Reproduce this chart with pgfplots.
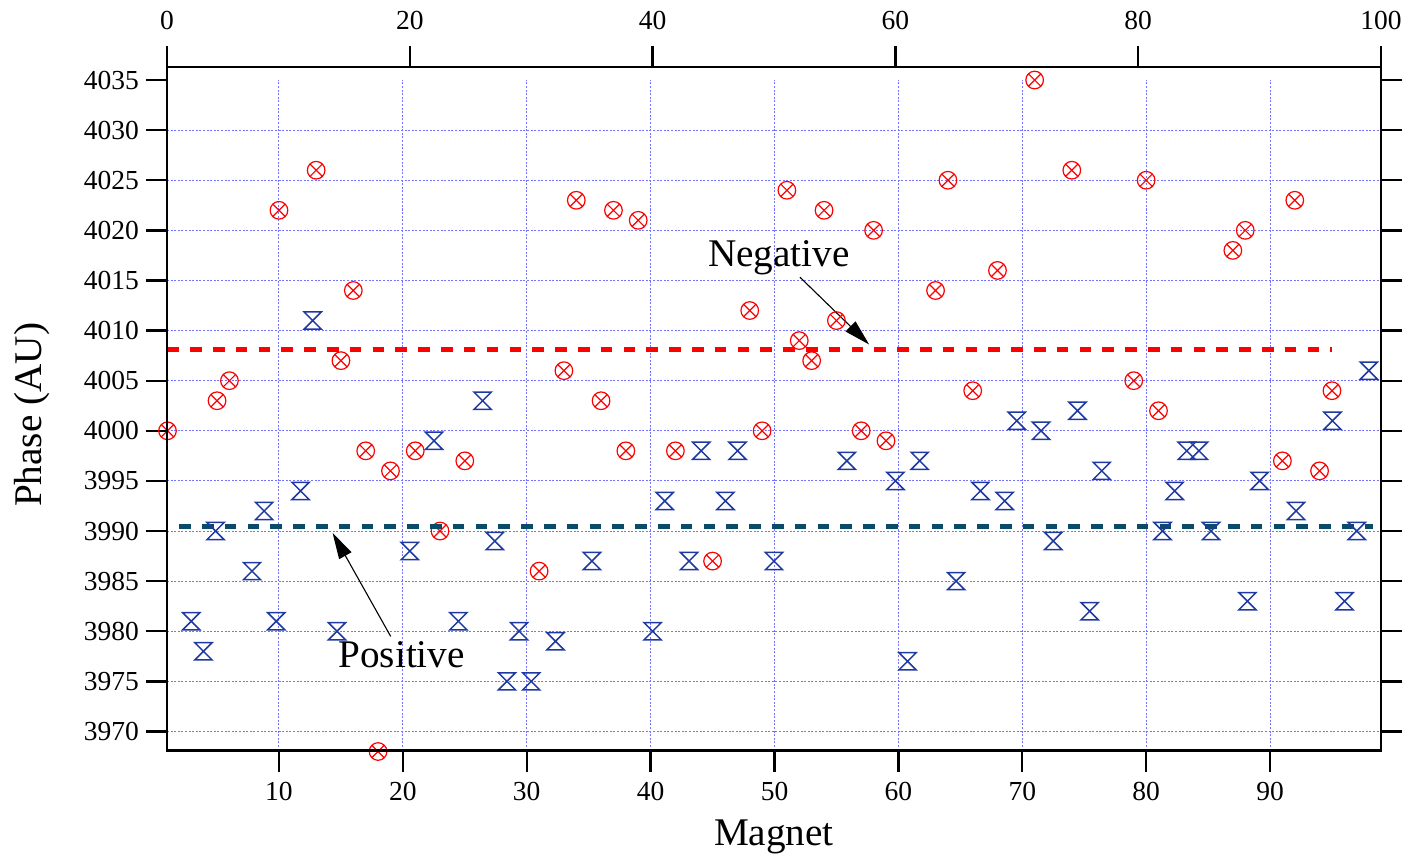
\documentclass[border=0pt]{standalone}
\usepackage{fontspec}
\setmainfont{Liberation Serif}
\usepackage{pgfplots}
\pgfplotsset{compat=1.18}
\usetikzlibrary{plotmarks,arrows.meta}

\definecolor{negred}{RGB}{255,0,0}
\definecolor{posblue}{RGB}{30,58,160}
\definecolor{posline}{RGB}{10,75,105}
\definecolor{gridblue}{RGB}{115,115,255}

\pgfdeclareplotmark{hourglass}{%
  \pgfpathmoveto{\pgfqpoint{-\pgfplotmarksize}{\pgfplotmarksize}}%
  \pgfpathlineto{\pgfqpoint{\pgfplotmarksize}{\pgfplotmarksize}}%
  \pgfpathlineto{\pgfqpoint{-\pgfplotmarksize}{-\pgfplotmarksize}}%
  \pgfpathlineto{\pgfqpoint{\pgfplotmarksize}{-\pgfplotmarksize}}%
  \pgfpathclose
  \pgfusepathqstroke}

\pgfplotstableread{
x y
1 4000
5 4003
6 4005
10 4022
13 4026
15 4007
16 4014
17 3998
18 3968
19 3996
21 3998
23 3990
25 3997
31 3986
33 4006
34 4023
36 4003
37 4022
38 3998
39 4021
42 3998
45 3987
48 4012
49 4000
51 4024
52 4009
53 4007
54 4022
55 4011
57 4000
58 4020
59 3999
63 4014
64 4025
66 4004
68 4016
71 4035
74 4026
79 4005
80 4025
81 4002
87 4018
88 4020
91 3997
92 4023
94 3996
95 4004
}\negdata

\pgfplotstableread{
x y
2 3981
3 3978
4 3990
7 3986
8 3992
9 3981
11 3994
12 4011
14 3980
20 3988
22 3999
24 3981
26 4003
27 3989
28 3975
29 3980
30 3975
32 3979
35 3987
40 3980
41 3993
43 3987
44 3998
46 3993
47 3998
50 3987
56 3997
60 3995
61 3977
62 3997
65 3985
67 3994
69 3993
70 4001
72 4000
73 3989
75 4002
76 3982
77 3996
82 3990
83 3994
84 3998
85 3998
86 3990
89 3983
90 3995
93 3992
96 4001
97 3983
98 3990
99 4006
}\posdata

\tikzset{gridln/.style={gridblue, line width=0.5pt, dash pattern=on 1pt off 0.8pt}}

\pgfplotsset{
  commonax/.style={
    width=607pt, height=341.75pt, scale only axis,
    ymin=3968.1, ymax=4036.3,
    clip=false,
    tick align=outside,
    major tick length=10.5pt,
    axis line style={line width=1.15pt, black},
    tick style={line width=1.15pt, black},
    tick label style={font=\rmfamily\fontsize{13.75}{16}\selectfont},
    /pgf/number format/assume math mode=true,
    /pgf/number format/1000 sep={},
    scaled ticks=false,
  },
}

\begin{document}
\begin{tikzpicture}
\begin{axis}[commonax,
  xmin=0.96, xmax=98.96,
  xtick={10,20,...,90},
  xtick pos=left,
  ytick={3970,3975,...,4035},
  ytick pos=both, yticklabel pos=left,
  xticklabel style={yshift=-2pt},
]
\coordinate (BL) at (rel axis cs:0,0);
\coordinate (TR) at (rel axis cs:1,1);
\pgfplotsinvokeforeach{3970,3975,3980,3985,3990,3995,4000,4005,4010,4015,4020,4025,4030}{
  \draw[gridln] (axis cs:0.96,#1) -- (axis cs:98.96,#1);
}
\pgfplotsinvokeforeach{10,20,30,40,50,60,70,80,90}{
  \draw[gridln] (axis cs:#1,3968.1) -- (axis cs:#1,4035);
}
\addplot[negred, line width=2.6pt, dash pattern=on 5.8pt off 5.6pt] coordinates {(1,4008.15) (95,4008.15)};
\addplot[only marks, mark=otimes, mark size=4.4pt, color=negred, mark options={line width=0.6pt}] table[x=x,y=y] {\negdata};
\node[font=\fontsize{19.6}{22}\selectfont, anchor=base] at (axis cs:50.36,4016.36) {Negative};
\node[font=\fontsize{19.6}{22}\selectfont, anchor=base] at (axis cs:19.90,3976.42) {Positive};
\draw[black, line width=0.55pt, -{Triangle[length=13pt,width=7pt]}] (axis cs:52.05,4015.33) -- (axis cs:57.64,4008.61);
\draw[black, line width=0.55pt, -{Triangle[length=13pt,width=7pt]}] (axis cs:19.02,3979.48) -- (axis cs:14.33,3989.80);
\node[font=\fontsize{19.6}{22}\selectfont, anchor=base] at ([yshift=-47.25pt]rel axis cs:0.5,0) {Magnet};
\node[font=\fontsize{19.6}{22}\selectfont, rotate=90, anchor=base] at ([xshift=-62.65pt]rel axis cs:0,0.491) {Phase (AU)};
\end{axis}
\begin{axis}[commonax,
  xmin=0, xmax=100,
  xtick={0,20,...,100},
  xtick pos=right, xticklabel pos=right,
  ytick=\empty,
  xticklabel style={yshift=4.5pt},
]
\addplot[posline, line width=2.6pt, dash pattern=on 5.8pt off 5.6pt] coordinates {(1,3990.45) (99.3,3990.45)};
\addplot[only marks, mark=hourglass, mark size=4.3pt, color=posblue, mark options={line width=0.75pt}] table[x=x,y=y] {\posdata};
\end{axis}
\pgfresetboundingbox
\path ([shift={(-83.5pt,-53.25pt)}]BL) rectangle ([shift={(12.5pt,33.5pt)}]TR);
\end{tikzpicture}
\end{document}
